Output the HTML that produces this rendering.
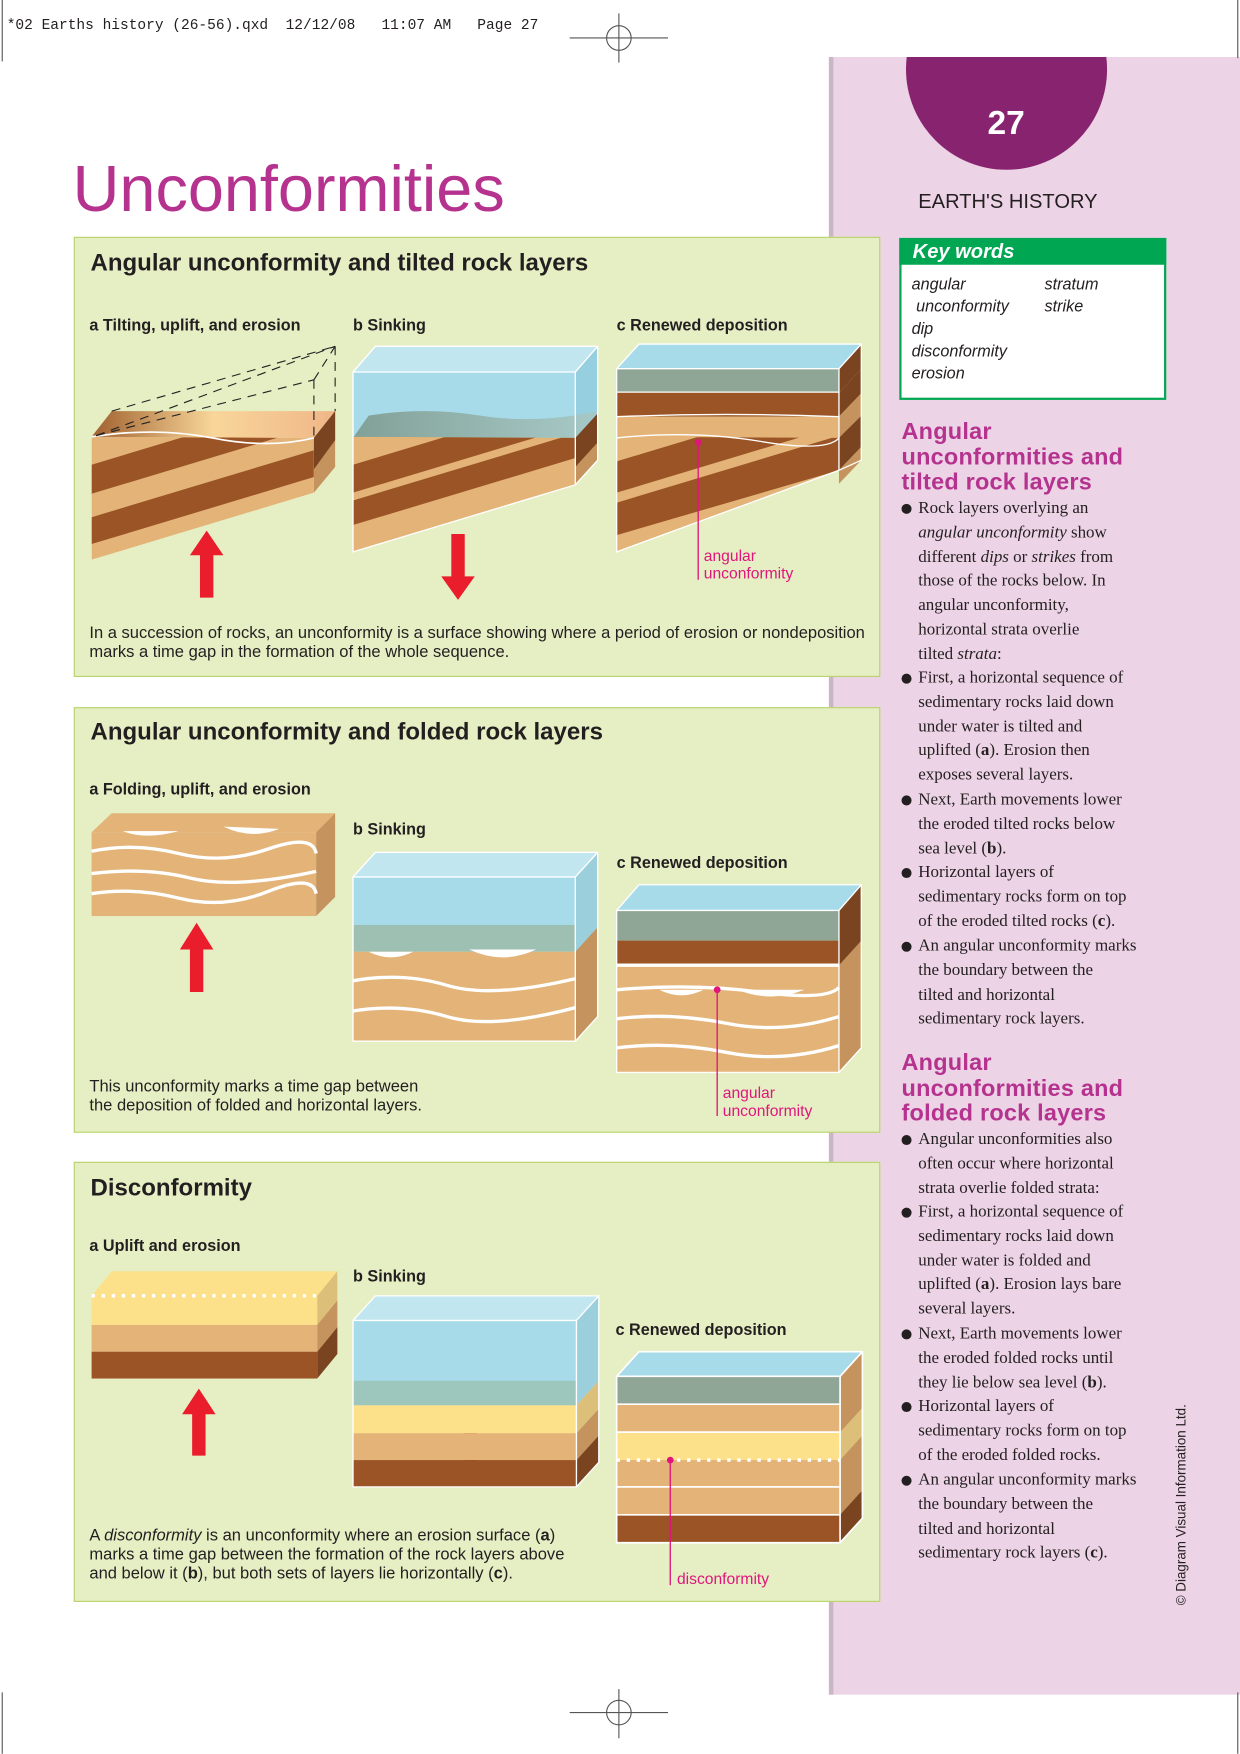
<!DOCTYPE html>
<html><head><meta charset="utf-8"><style>
*{margin:0;padding:0;box-sizing:border-box}
html,body{width:1240px;height:1754px;overflow:hidden;background:#fff}
#w{position:absolute;left:0;top:0;width:1110px;height:1570px;transform:scale(1.11712);transform-origin:0 0;font-family:"Liberation Sans",sans-serif;color:#231f20}
.a{position:absolute;white-space:nowrap}
.panel{position:absolute;left:66px;width:722px;background:#e6eec4;border:1.5px solid #b8d36a}
.h{font-weight:bold;font-size:21.5px}
.sub{font-size:14.5px;font-weight:bold}
.cap{font-size:14.8px;line-height:17px}
.side{font-family:"Liberation Serif",serif;font-size:15.2px;line-height:21.8px;color:#231f20}
.sh{font-weight:bold;font-size:21px;line-height:22.5px;color:#b5338e;letter-spacing:0.2px}
.b{position:absolute;left:807px}
.b span.d{position:absolute;left:0;top:7px;width:9px;height:9px;border-radius:50%;background:#231f20}
.b div{margin-left:15px}
</style></head><body><div id="w">
<div class="a" style="left:6px;top:15px;font-family:'Liberation Mono',monospace;font-size:13px">*02 Earths history (26-56).qxd&nbsp;&nbsp;12/12/08&nbsp;&nbsp;&nbsp;11:07 AM&nbsp;&nbsp;&nbsp;Page 27</div>
<div style="position:absolute;left:742px;top:51px;width:368px;height:1466px;background:#ecd3e6"></div>
<div style="position:absolute;left:742px;top:51px;width:4px;height:1466px;background:#c9b7c4"></div>
<svg class="a" style="left:0;top:0" width="1110" height="1570">
<defs><clipPath id="pk"><rect x="742" y="51" width="368" height="1466"/></clipPath></defs>
<circle cx="901" cy="62" r="90" fill="#88246f" clip-path="url(#pk)"/>
<g stroke="#555" stroke-width="1" fill="none"><line x1="510" y1="34" x2="598" y2="34"/><line x1="554" y1="12" x2="554" y2="56"/><circle cx="554" cy="34" r="11"/>
<line x1="510" y1="1533" x2="598" y2="1533"/><line x1="554" y1="1512" x2="554" y2="1556"/><circle cx="554" cy="1533" r="11"/>
<line x1="2" y1="0" x2="2" y2="55"/><line x1="2" y1="1515" x2="2" y2="1570"/><line x1="1108" y1="0" x2="1108" y2="52"/><line x1="1108" y1="1515" x2="1108" y2="1570"/></g>
</svg>
<div class="a" style="left:884px;top:94px;color:#fff;font-weight:bold;font-size:30px">27</div>
<div class="a" style="left:822px;top:170px;font-size:18px;color:#231f20">EARTH'S HISTORY</div>
<div class="a" style="left:65px;top:136px;font-size:58px;color:#b5338e">Unconformities</div>

<div style="position:absolute;left:805px;top:213px;width:239px;height:145px;border:2px solid #00a651;background:#fff"></div>
<div style="position:absolute;left:805px;top:213px;width:239px;height:24px;background:#00a651"></div>
<div class="a" style="left:817px;top:215px;color:#fff;font-weight:bold;font-style:italic;font-size:18px">Key words</div>
<div class="a" style="left:816px;top:245px;font-style:italic;font-size:14.5px;line-height:20px">angular<br>&nbsp;unconformity<br>dip<br>disconformity<br>erosion</div>
<div class="a" style="left:935px;top:245px;font-style:italic;font-size:14.5px;line-height:20px">stratum<br>strike</div>

<div class="a sh" style="left:807px;top:376px">Angular<br>unconformities and<br>tilted rock layers</div>
<div class="b side" style="top:444px"><span class="d"></span><div>Rock layers overlying an<br><i>angular unconformity</i> show<br>different <i>dips</i> or <i>strikes</i> from<br>those of the rocks below. In<br>angular unconformity,<br>horizontal strata overlie<br>tilted <i>strata</i>:</div></div>
<div class="b side" style="top:596px"><span class="d"></span><div>First, a horizontal sequence of<br>sedimentary rocks laid down<br>under water is tilted and<br>uplifted (<b>a</b>). Erosion then<br>exposes several layers.</div></div>
<div class="b side" style="top:705px"><span class="d"></span><div>Next, Earth movements lower<br>the eroded tilted rocks below<br>sea level (<b>b</b>).</div></div>
<div class="b side" style="top:770px"><span class="d"></span><div>Horizontal layers of<br>sedimentary rocks form on top<br>of the eroded tilted rocks (<b>c</b>).</div></div>
<div class="b side" style="top:836px"><span class="d"></span><div>An angular unconformity marks<br>the boundary between the<br>tilted and horizontal<br>sedimentary rock layers.</div></div>
<div class="a sh" style="left:807px;top:941px">Angular<br>unconformities and<br>folded rock layers</div>
<div class="b side" style="top:1009px"><span class="d"></span><div>Angular unconformities also<br>often occur where horizontal<br>strata overlie folded strata:</div></div>
<div class="b side" style="top:1074px"><span class="d"></span><div>First, a horizontal sequence of<br>sedimentary rocks laid down<br>under water is folded and<br>uplifted (<b>a</b>). Erosion lays bare<br>several layers.</div></div>
<div class="b side" style="top:1183px"><span class="d"></span><div>Next, Earth movements lower<br>the eroded folded rocks until<br>they lie below sea level (<b>b</b>).</div></div>
<div class="b side" style="top:1248px"><span class="d"></span><div>Horizontal layers of<br>sedimentary rocks form on top<br>of the eroded folded rocks.</div></div>
<div class="b side" style="top:1314px"><span class="d"></span><div>An angular unconformity marks<br>the boundary between the<br>tilted and horizontal<br>sedimentary rock layers (<b>c</b>).</div></div>
<div class="a" style="left:1050px;top:1437px;font-size:12px;transform:rotate(-90deg);transform-origin:0 0">© Diagram Visual Information Ltd.</div>

<div class="panel" style="top:212px;height:394px"></div>
<div class="panel" style="top:633px;height:381px"></div>
<div class="panel" style="top:1040px;height:394px"></div>

<div class="a h" style="left:81px;top:223px">Angular unconformity and tilted rock layers</div>
<div class="a sub" style="left:80px;top:284px">a Tilting, uplift, and erosion</div>
<div class="a sub" style="left:316px;top:284px">b Sinking</div>
<div class="a sub" style="left:552px;top:284px">c Renewed deposition</div>
<div class="a cap" style="left:80px;top:559px">In a succession of rocks, an unconformity is a surface showing where a period of erosion or nondeposition<br>marks a time gap in the formation of the whole sequence.</div>

<div class="a h" style="left:81px;top:643px">Angular unconformity and folded rock layers</div>
<div class="a sub" style="left:80px;top:699px">a Folding, uplift, and erosion</div>
<div class="a sub" style="left:316px;top:735px">b Sinking</div>
<div class="a sub" style="left:552px;top:765px">c Renewed deposition</div>
<div class="a cap" style="left:80px;top:965px">This unconformity marks a time gap between<br>the deposition of folded and horizontal layers.</div>

<div class="a h" style="left:81px;top:1051px">Disconformity</div>
<div class="a sub" style="left:80px;top:1108px">a Uplift and erosion</div>
<div class="a sub" style="left:316px;top:1135px">b Sinking</div>
<div class="a sub" style="left:551px;top:1183px">c Renewed deposition</div>
<div class="a cap" style="left:80px;top:1367px">A <i>disconformity</i> is an unconformity where an erosion surface (<b>a</b>)<br>marks a time gap between the formation of the rock layers above<br>and below it (<b>b</b>), but both sets of layers lie horizontally (<b>c</b>).</div>

<svg class="a" style="left:0;top:0" width="1110" height="1570">
<defs>
<clipPath id="ca"><polygon points="82,391 281,392 281,441 82,501"/></clipPath>
<clipPath id="cb"><polygon points="316,391 515,392 515,434 316,494"/></clipPath>
<clipPath id="cc"><polygon points="552,391 751,392 751,421 552,494"/></clipPath>
<linearGradient id="tg" x1="0" x2="1"><stop offset="0" stop-color="#a0602e"/><stop offset=".5" stop-color="#f8d69a"/><stop offset="1" stop-color="#f0b688"/></linearGradient>
<linearGradient id="sg" x1="0" x2="1"><stop offset="0" stop-color="#7d9a8e"/><stop offset="1" stop-color="#a8c8c4"/></linearGradient>
</defs>
<g stroke="none">
<g clip-path="url(#ca)">
<rect x="82" y="330" width="200" height="180" fill="#e3b378"/>
<polygon points="82,416 281,356 281,382 82,442" fill="#9a5426"/>
<polygon points="82,463 281,403 281,427 82,487" fill="#9a5426"/>
</g>
<polygon points="82,391 100,368 300,368 281,392" fill="url(#tg)"/>
<polygon points="281,392 300,368 300,418 281,441" fill="#c4935e"/>
<polygon points="281,392 300,368 300,394 281,420" fill="#7a4420"/>
<path d="M82,391 Q140,382 190,392 T281,392" stroke="#fff" stroke-width="1.5" fill="none"/>
<g stroke="#222" stroke-dasharray="8,6" fill="none" stroke-width="1"><line x1="86" y1="390" x2="300" y2="310"/><line x1="100" y1="368" x2="300" y2="310"/><line x1="281" y1="340" x2="300" y2="310"/><line x1="281" y1="340" x2="281" y2="392"/><line x1="300" y1="310" x2="300" y2="368"/><line x1="86" y1="390" x2="281" y2="340"/></g>
<polygon points="316,333 336,310 535,310 515,333" fill="#c2e6f0"/>
<rect x="316" y="333" width="199" height="60" fill="#a7dbea"/>
<polygon points="515,333 535,310 535,370 515,392" fill="#96cfe0"/>
<path d="M316,392 L330,372 Q380,364 430,372 T535,368 L515,392 Z" fill="url(#sg)" opacity=".9"/>
<g clip-path="url(#cb)">
<rect x="316" y="330" width="200" height="180" fill="#e3b378"/>
<polygon points="316,416 515,356 515,381 316,441" fill="#9a5426"/>
<polygon points="316,448 515,388 515,410 316,470" fill="#9a5426"/>
</g>
<polygon points="515,392 535,370 535,412 515,434" fill="#7a4420"/>
<polygon points="515,418 535,396 535,412 515,434" fill="#c4935e"/>
<g stroke="#fff" stroke-width="1.2" fill="none"><polyline points="316,333 336,310 535,310 535,412 515,434 316,494 316,333 515,333 515,434"/><line x1="515" y1="333" x2="535" y2="310"/></g>
<polygon points="552,330 572,308 771,308 751,330" fill="#a7dbea"/>
<rect x="552" y="330" width="199" height="21" fill="#8fa595"/>
<rect x="552" y="351" width="199" height="22" fill="#9a5426"/>
<rect x="552" y="373" width="199" height="19" fill="#e3b378"/>
<g clip-path="url(#cc)">
<rect x="552" y="380" width="200" height="120" fill="#e3b378"/>
<polygon points="552,413 751,353 751,381 552,441" fill="#9a5426"/>
<polygon points="552,450 751,390 751,421 552,479" fill="#9a5426"/>
</g>
<polygon points="751,330 771,308 771,330 751,352" fill="#7a4420"/>
<polygon points="751,352 771,330 771,352 751,373" fill="#7a4420"/>
<polygon points="751,373 771,352 771,372 751,392" fill="#c4935e"/>
<polygon points="751,392 771,372 771,400 751,421" fill="#7a4420"/>
<polygon points="751,421 771,400 771,412 751,433" fill="#c4935e"/>
<g stroke="#fff" stroke-width="1.2" fill="none"><polyline points="552,330 572,308 771,308 771,412 751,421 552,494 552,330 751,330 751,421"/><line x1="751" y1="330" x2="771" y2="308"/><line x1="552" y1="351" x2="751" y2="351"/><path d="M552,373 Q650,369 751,373"/><path d="M552,392 Q620,385 680,395 T751,392"/></g>
<circle cx="625" cy="396" r="3" fill="#e0157c"/><line x1="625" y1="396" x2="625" y2="519" stroke="#e0157c" stroke-width="1.2"/>
<g fill="#ea1d2c">
<polygon points="179,535 191,535 191,497 200,497 185,475 170,497 179,497"/>
<polygon points="404,478 416,478 416,516 425,516 410,537 395,516 404,516"/>
<polygon points="170,888 182,888 182,850 191,850 176,826 161,850 170,850"/>
<polygon points="404,867 416,867 416,907 425,907 410,930 395,907 404,907"/>
<polygon points="172,1303 184,1303 184,1266 193,1266 178,1243 163,1266 172,1266"/>
<polygon points="415,1268 427,1268 427,1308 436,1308 421,1330 406,1308 415,1308"/>
</g>
<polygon points="82,745 100,728 300,728 283,745" fill="#e3b378"/>
<rect x="82" y="745" width="201" height="75" fill="#e3b378"/>
<polygon points="283,745 300,728 300,803 283,820" fill="#c4935e"/>
<g stroke="#fff" stroke-width="3" fill="none"><path d="M82,762 Q120,754 160,764 T240,760 T283,764"/><path d="M82,782 Q130,776 170,786 T283,780"/><path d="M82,800 Q120,794 160,804 T240,798 T283,800"/></g>
<path d="M110,744 Q130,752 160,744 Z M200,740 Q225,752 250,742 Z" fill="#fff"/>
<polygon points="316,785 336,763 535,763 515,785" fill="#c2e6f0"/>
<rect x="316" y="785" width="199" height="44" fill="#a7dbea"/>
<rect x="316" y="828" width="199" height="24" fill="#9dc0b3"/>
<rect x="316" y="852" width="199" height="80" fill="#e3b378"/>
<polygon points="515,785 535,763 535,910 515,932" fill="#9ccfdc"/>
<polygon points="515,852 535,830 535,910 515,932" fill="#c4935e"/>
<path d="M330,852 Q350,862 370,852 Z M420,850 Q450,864 480,850 Z" fill="#fff"/>
<g stroke="#fff" stroke-width="3" fill="none"><path d="M316,878 Q360,870 400,882 T515,876"/><path d="M316,905 Q360,898 400,910 T515,902"/></g>
<g stroke="#fff" stroke-width="1.2" fill="none"><polyline points="316,785 336,763 535,763 535,910 515,932 316,932 316,785 515,785 515,932"/><line x1="515" y1="785" x2="535" y2="763"/></g>
<polygon points="552,815 572,792 771,792 751,815" fill="#a7dbea"/>
<rect x="552" y="815" width="199" height="27" fill="#8fa595"/>
<rect x="552" y="842" width="199" height="22" fill="#9a5426"/>
<rect x="552" y="864" width="199" height="96" fill="#e3b378"/>
<polygon points="751,815 771,792 771,938 751,960" fill="#c4935e"/>
<polygon points="751,815 771,792 771,842 751,864" fill="#7a4420"/>
<path d="M590,886 Q610,896 630,886 Z M660,886 Q690,898 720,886 Z" fill="#fff"/>
<g stroke="#fff" stroke-width="3" fill="none"><path d="M552,864 L751,864"/><path d="M552,886 Q620,880 680,888 T751,884"/><path d="M552,912 Q600,906 650,916 T751,910"/><path d="M552,938 Q600,932 650,942 T751,936"/></g>
<g stroke="#fff" stroke-width="1.2" fill="none"><polyline points="552,815 572,792 771,792 771,938 751,960 552,960 552,815 751,815 751,960"/><line x1="751" y1="815" x2="771" y2="792"/></g>
<circle cx="642" cy="886" r="3" fill="#e0157c"/><line x1="642" y1="886" x2="642" y2="999" stroke="#e0157c" stroke-width="1.2"/>
<polygon points="82,1160 100,1138 302,1138 284,1160" fill="#fde08a"/>
<rect x="82" y="1160" width="202" height="26" fill="#fde08a"/>
<rect x="82" y="1186" width="202" height="24" fill="#e3b378"/>
<rect x="82" y="1210" width="202" height="24" fill="#9a5426"/>
<polygon points="284,1160 302,1138 302,1164 284,1186" fill="#dcc07a"/>
<polygon points="284,1186 302,1164 302,1188 284,1210" fill="#c4935e"/>
<polygon points="284,1210 302,1188 302,1212 284,1234" fill="#7a4420"/>
<path d="M82,1160 L284,1160" stroke="#fff" stroke-width="3" stroke-dasharray="3,6"/>
<polygon points="316,1182 336,1160 536,1160 516,1182" fill="#c2e6f0"/>
<rect x="316" y="1182" width="200" height="76" fill="#a7dbea"/>
<rect x="316" y="1236" width="200" height="22" fill="#9dc7bd"/>
<rect x="316" y="1258" width="200" height="25" fill="#fde08a"/>
<rect x="316" y="1283" width="200" height="24" fill="#e3b378"/>
<rect x="316" y="1307" width="200" height="24" fill="#9a5426"/>
<polygon points="516,1182 536,1160 536,1236 516,1258" fill="#9ccfdc"/>
<polygon points="516,1258 536,1236 536,1261 516,1283" fill="#dcc07a"/>
<polygon points="516,1283 536,1261 536,1285 516,1307" fill="#c4935e"/>
<polygon points="516,1307 536,1285 536,1309 516,1331" fill="#7a4420"/>
<g stroke="#fff" stroke-width="1.2" fill="none"><polyline points="316,1182 336,1160 536,1160 536,1309 516,1331 316,1331 316,1182 516,1182 516,1331"/><line x1="516" y1="1182" x2="536" y2="1160"/></g>
<polygon points="552,1232 572,1210 772,1210 752,1232" fill="#a7dbea"/>
<rect x="552" y="1232" width="200" height="25" fill="#8fa595"/>
<rect x="552" y="1257" width="200" height="25" fill="#e3b378"/>
<rect x="552" y="1282" width="200" height="25" fill="#fde08a"/>
<rect x="552" y="1307" width="200" height="49" fill="#e3b378"/>
<rect x="552" y="1356" width="200" height="25" fill="#9a5426"/>
<polygon points="752,1232 772,1210 772,1359 752,1381" fill="#c4935e"/>
<polygon points="752,1282 772,1260 772,1285 752,1307" fill="#dcc07a"/>
<polygon points="752,1356 772,1334 772,1359 752,1381" fill="#7a4420"/>
<g stroke="#fff" stroke-width="1.5" fill="none"><polyline points="552,1232 572,1210 772,1210 772,1359 752,1381 552,1381 552,1232 752,1232 752,1381"/><line x1="752" y1="1232" x2="772" y2="1210"/><line x1="552" y1="1257" x2="752" y2="1257"/><line x1="552" y1="1282" x2="752" y2="1282"/><line x1="552" y1="1331" x2="752" y2="1331"/><line x1="552" y1="1356" x2="752" y2="1356"/></g>
<path d="M552,1307 L752,1307" stroke="#fff" stroke-width="3" stroke-dasharray="3,6"/>
<circle cx="600" cy="1307" r="3" fill="#e0157c"/><line x1="600" y1="1307" x2="600" y2="1419" stroke="#e0157c" stroke-width="1.2"/>
</g>
</svg>
<div class="a" style="left:630px;top:489px;color:#e0157c;font-size:14px;line-height:16px">angular<br>unconformity</div>
<div class="a" style="left:647px;top:970px;color:#e0157c;font-size:14px;line-height:16px">angular<br>unconformity</div>
<div class="a" style="left:606px;top:1405px;color:#e0157c;font-size:14px">disconformity</div>
</div></body></html>
